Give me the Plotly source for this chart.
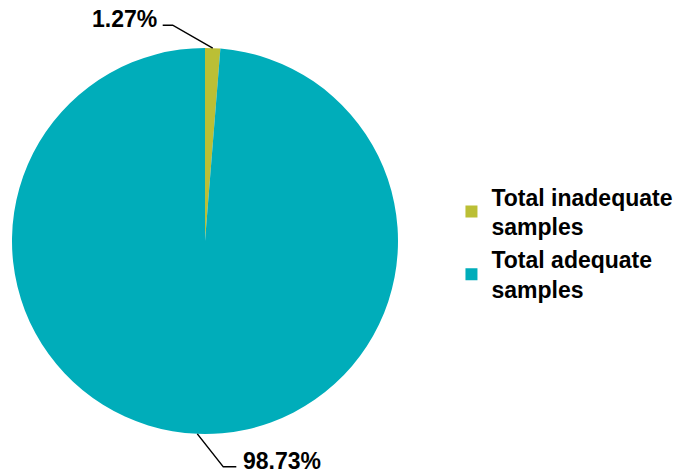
import math
import plotly.graph_objects as go

# data
labels = ["Total inadequate<br>samples", "Total adequate<br>samples"]
values = [1.27, 98.73]
text_labels = ["1.27%", "98.73%"]
colors = ["#BBBF35", "#00ADBA"]

W, H = 683, 474
FONT = "Liberation Sans, Arial, sans-serif"

# pie placement (pixels)
cx, cy, r = 205, 241, 193
dom_x = [(cx - r) / W, (cx + r) / W]
dom_y = [(H - cy - r) / H, (H - cy + r) / H]

fig = go.Figure(go.Pie(
    labels=labels,
    values=values,
    marker=dict(colors=colors, line=dict(width=0)),
    sort=False,
    direction="clockwise",
    rotation=0,
    textinfo="none",
    hoverinfo="label+percent",
    domain=dict(x=dom_x, y=dom_y),
))


def to_paper(x, y):
    return x / W, (H - y) / H


# leader lines + outside labels, anchored at slice mid-angles
total = sum(values)
cum = 0.0
shapes, annotations = [], []
elbows = [(-40, -23, -10), (26, 33, 13)]  # (dx, dy, horizontal run)
for v, txt, (dx, dy, run) in zip(values, text_labels, elbows):
    mid = (cum + v / 2) / total * 2 * math.pi
    cum += v
    px0 = cx + r * math.sin(mid)
    py0 = cy - r * math.cos(mid)
    px1, py1 = px0 + dx, py0 + dy
    px2 = px1 + run
    pts = [to_paper(px0, py0), to_paper(px1, py1), to_paper(px2, py1)]
    path = "M {} {} L {} {} L {} {}".format(*[c for p in pts for c in p])
    shapes.append(dict(type="path", xref="paper", yref="paper", path=path,
                       line=dict(color="black", width=1.5)))
    tx, ty = to_paper(px2 + (5 if run > 0 else -4), py1 - 6)
    annotations.append(dict(
        x=tx, y=ty, xref="paper", yref="paper", text="<b>" + txt + "</b>",
        showarrow=False, xanchor="left" if run > 0 else "right", yanchor="middle",
        font=dict(family=FONT, size=23, color="black"),
    ))

fig.update_layout(
    width=W, height=H,
    margin=dict(l=0, r=0, t=0, b=0),
    paper_bgcolor="white",
    plot_bgcolor="white",
    showlegend=True,
    legend=dict(
        x=0.661, y=0.487, xanchor="left", yanchor="middle",
        font=dict(family=FONT, size=23, color="black", weight="bold"),
        itemsizing="constant",
        itemwidth=30,
    ),
    shapes=shapes,
    annotations=annotations,
)

fig.write_html(
    "out.html",
    config={"displayModeBar": False},
    post_script="document.body.style.margin='0px';",
)
